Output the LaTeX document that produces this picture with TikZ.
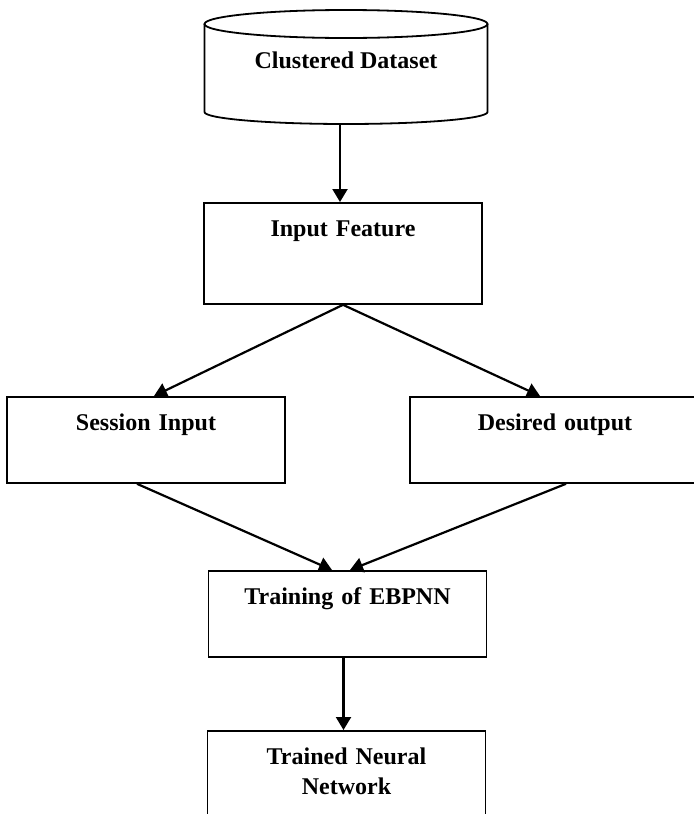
\documentclass[tikz,border=0pt]{standalone}
\usepackage{fontspec}
\setmainfont{Liberation Serif}
\usetikzlibrary{arrows.meta}
\tikzset{
  stage/.style={draw, line width=0.9pt, inner sep=0pt, anchor=north, align=center,
    text width=139pt, text height=17pt, text depth=26pt},
  flow/.style={line width=1.1pt, -{Triangle[length=6.5pt,width=7.5pt]}}
}
\begin{document}
\begin{tikzpicture}[x=0.5pt,y=-0.5pt,font=\fontsize{12}{15}\selectfont\bfseries]
\useasboundingbox (0,0) rectangle (694,814);
\draw[line width=0.9pt] (346,24) ellipse [x radius=70.75pt, y radius=7pt];%dataset
\draw[line width=0.9pt] (204.5,24) -- (204.5,112)
  arc[start angle=180, end angle=360, x radius=70.75pt, y radius=6pt] -- (487.5,24);
\node[anchor=base] (data) at (346,68) {Clustered Dataset};
\coordinate (data-bot) at (340,124);
\node[stage, text depth=33.5pt] (feat) at (343,202) {Input Feature};
\node[stage] (sess) at (146,396) {Session Input};
\node[stage, text width=145pt] (want) at (555,396) {Desired output};
\node[stage] (train) at (347.5,570) {Training of EBPNN};
\node[stage] (net) at (346.5,730) {Trained Neural\\Network};
\draw[flow] (data-bot) -- (data-bot |- feat.north);
\draw[flow] (feat.south) -- ([xshift=4pt]sess.north);
\draw[flow] (feat.south) -- ([xshift=-7.5pt]want.north);
\draw[flow] ([xshift=-4.5pt]sess.south) -- ([xshift=-7.75pt]train.north);
\draw[flow] ([xshift=5.5pt]want.south) -- ([xshift=1.25pt]train.north);
\draw[flow] ([xshift=-2pt]train.south) -- ([xshift=-2pt]train.south |- net.north);
\end{tikzpicture}
\end{document}
